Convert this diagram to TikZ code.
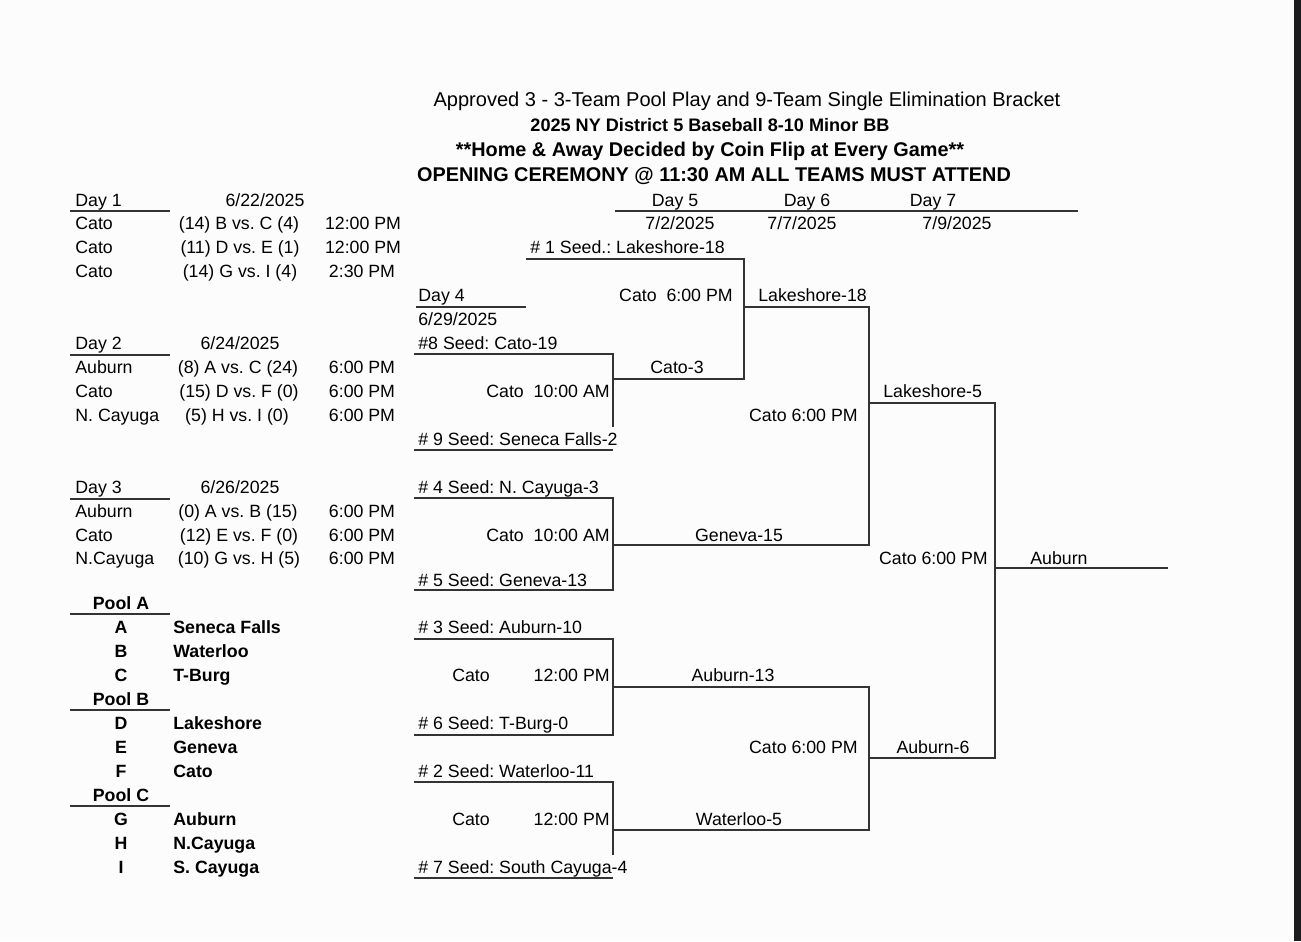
\documentclass[tikz,border=0pt]{standalone}
\usepackage{fontspec}
\setmainfont{Liberation Sans}
\usetikzlibrary{positioning}
\usepackage{xcolor}
\definecolor{rulegray}{HTML}{333333}
\definecolor{edgebar}{HTML}{1C1C1E}
\definecolor{paper}{HTML}{FCFCFC}
\frenchspacing

\begin{document}
\begin{tikzpicture}[x=0.02cm,y=-0.02cm,
  every node/.style={inner sep=0pt,text height=0.716em,text depth=0pt,font=\fontsize{10.1}{12}\selectfont},
  lft/.style={anchor=west},
  rgt/.style={anchor=east},
  bld/.style={font=\fontsize{10.1}{12}\selectfont\bfseries},
  ln/.style={draw=rulegray,line width=1.1pt}]
  \fill[paper] (0,0) rectangle (1301,941);
  \useasboundingbox (0,0) rectangle (1301,941);
  \fill[edgebar] (1294,0) rectangle (1301,941);

  % heading
  \node (title) at (747,100) [font=\fontsize{11.4}{13}\selectfont] {Approved 3 - 3-Team Pool Play and 9-Team Single Elimination Bracket};
  \node (district) at (710,125) [font=\fontsize{10.3}{12}\selectfont\bfseries] {2025 NY District 5 Baseball 8-10 Minor BB};
  \node (coin) at (710,150) [font=\fontsize{11.3}{13}\selectfont\bfseries] {**Home \& Away Decided by Coin Flip at Every Game**};
  \node (ceremony) at (714,175) [font=\fontsize{11.3}{13}\selectfont\bfseries] {OPENING CEREMONY @ 11:30 AM ALL TEAMS MUST ATTEND};

  % pool play days
  \node (day1) [lft] at (75,200) {Day 1};
  \node (day1date) at (265,200) {6/22/2025};
  \coordinate (day1l) at (70,211); \coordinate (day1r) at (170,211);
  \draw[ln] (day1l) -- (day1r);
  \node (d1site1) [lft] at (75,223) {Cato};
  \node (d1game1) at (239,223) {(14) B vs. C (4)};
  \node (d1time1) at (363,223) {12:00 PM};
  \node (d1site2) [lft] at (75,247) {Cato};
  \node (d1game2) at (240,247) {(11) D vs. E (1)};
  \node (d1time2) at (363,247) {12:00 PM};
  \node (d1site3) [lft] at (75,271) {Cato};
  \node (d1game3) at (240,271) {(14) G vs. I (4)};
  \node (d1time3) at (362,271) {2:30 PM};

  \node (day2) [lft] at (75,343) {Day 2};
  \node (day2date) at (240,343) {6/24/2025};
  \coordinate (day2l) at (70,355); \coordinate (day2r) at (170,355);
  \draw[ln] (day2l) -- (day2r);
  \node (d2site1) [lft] at (75,367) {Auburn};
  \node (d2game1) at (238,367) {(8) A vs. C (24)};
  \node (d2time1) at (362,367) {6:00 PM};
  \node (d2site2) [lft] at (75,391) {Cato};
  \node (d2game2) at (239,391) {(15) D vs. F (0)};
  \node (d2time2) at (362,391) {6:00 PM};
  \node (d2site3) [lft] at (75,415) {N. Cayuga};
  \node (d2game3) at (237,415) {(5) H vs. I (0)};
  \node (d2time3) at (362,415) {6:00 PM};

  \node (day3) [lft] at (75,487) {Day 3};
  \node (day3date) at (240,487) {6/26/2025};
  \coordinate (day3l) at (70,499); \coordinate (day3r) at (170,499);
  \draw[ln] (day3l) -- (day3r);
  \node (d3site1) [lft] at (75,511) {Auburn};
  \node (d3game1) at (238,511) {(0) A vs. B (15)};
  \node (d3time1) at (362,511) {6:00 PM};
  \node (d3site2) [lft] at (75,535) {Cato};
  \node (d3game2) at (239,535) {(12) E vs. F (0)};
  \node (d3time2) at (362,535) {6:00 PM};
  \node (d3site3) [lft] at (75,558) {N.Cayuga};
  \node (d3game3) at (239,558) {(10) G vs. H (5)};
  \node (d3time3) at (362,558) {6:00 PM};

  % pools
  \node (poolA) [bld] at (121,603) {Pool A};
  \coordinate (poolAl) at (70,614); \coordinate (poolAr) at (170,614);
  \draw[ln] (poolAl) -- (poolAr);
  \node (keyA) [bld] at (121,627) {A};  \node (teamA) [bld,lft] at (173,627) {Seneca Falls};
  \node (keyB) [bld] at (121,651) {B};  \node (teamB) [bld,lft] at (173,651) {Waterloo};
  \node (keyC) [bld] at (121,675) {C};  \node (teamC) [bld,lft] at (173,675) {T-Burg};
  \node (poolB) [bld] at (121,699) {Pool B};
  \coordinate (poolBl) at (70,710); \coordinate (poolBr) at (170,710);
  \draw[ln] (poolBl) -- (poolBr);
  \node (keyD) [bld] at (121,723) {D};  \node (teamD) [bld,lft] at (173,723) {Lakeshore};
  \node (keyE) [bld] at (121,747) {E};  \node (teamE) [bld,lft] at (173,747) {Geneva};
  \node (keyF) [bld] at (121,771) {F};  \node (teamF) [bld,lft] at (173,771) {Cato};
  \node (poolC) [bld] at (121,795) {Pool C};
  \coordinate (poolCl) at (70,806); \coordinate (poolCr) at (170,806);
  \draw[ln] (poolCl) -- (poolCr);
  \node (keyG) [bld] at (121,819) {G};  \node (teamG) [bld,lft] at (173,819) {Auburn};
  \node (keyH) [bld] at (121,843) {H};  \node (teamH) [bld,lft] at (173,843) {N.Cayuga};
  \node (keyI) [bld] at (121,867) {I};  \node (teamI) [bld,lft] at (173,867) {S. Cayuga};

  % bracket header
  \node (day5) at (675,200) {Day 5};
  \node (day6) at (807,200) {Day 6};
  \node (day7) at (933,200) {Day 7};
  \coordinate (headl) at (615,211); \coordinate (headr) at (1078,211);
  \draw[ln] (headl) -- (headr);
  \node (day5date) at (680,223) {7/2/2025};
  \node (day6date) at (802,223) {7/7/2025};
  \node (day7date) at (957,223) {7/9/2025};
  \node (day4) [lft] at (418,295) {Day 4};
  \coordinate (day4l) at (416,307); \coordinate (day4r) at (526,307);
  \draw[ln] (day4l) -- (day4r);
  \node (day4date) [lft] at (418,319) {6/29/2025};

  % bracket labels
  \node (seed1) [lft] at (530,247) {\# 1 Seed.: Lakeshore-18};
  \node (semi1site) [rgt] at (733,295) {Cato\ \ 6:00 PM};
  \node (semi1win) [lft] at (758,295) {Lakeshore-18};
  \node (seed8) [lft] at (418,343) {\#8 Seed: Cato-19};
  \node (r1win) at (677,367) {Cato-3};
  \node (r1site) [rgt] at (610,391) {Cato\ \ 10:00 AM};
  \node (seed9) [lft] at (418,439) {\# 9 Seed: Seneca Falls-2};
  \node (fin1win) [lft] at (883,391) {Lakeshore-5};
  \node (semi2site) [rgt] at (858,415) {Cato 6:00 PM};
  \node (seed4) [lft] at (418,487) {\# 4 Seed: N. Cayuga-3};
  \node (q2site) [rgt] at (610,535) {Cato\ \ 10:00 AM};
  \node (q2win) at (739,535) {Geneva-15};
  \node (seed5) [lft] at (418,580) {\# 5 Seed: Geneva-13};
  \node (finsite) [rgt] at (988,558) {Cato 6:00 PM};
  \node (champ) [lft] at (1030,558) {Auburn};
  \node (seed3) [lft] at (418,627) {\# 3 Seed: Auburn-10};
  \node (q3site) at (471,675) {Cato};
  \node (q3time) [rgt] at (610,675) {12:00 PM};
  \node (q3win) at (733,675) {Auburn-13};
  \node (seed6) [lft] at (418,723) {\# 6 Seed: T-Burg-0};
  \node (semi3site) [rgt] at (858,747) {Cato 6:00 PM};
  \node (semi3win) at (933,747) {Auburn-6};
  \node (seed2) [lft] at (418,771) {\# 2 Seed: Waterloo-11};
  \node (q4site) at (471,819) {Cato};
  \node (q4time) [rgt] at (610,819) {12:00 PM};
  \node (q4win) at (739,819) {Waterloo-5};
  \node (seed7) [lft] at (418,867) {\# 7 Seed: South Cayuga-4};

  % bracket joints
  \coordinate (s1l) at (526,259);  \coordinate (s1r) at (744,259);
  \coordinate (s8l) at (414,354);  \coordinate (s8r) at (613,354);
  \coordinate (s9l) at (414,450);  \coordinate (s9r) at (613,450);
  \coordinate (r1end) at (613,427);
  \coordinate (r1l) at (613,379);  \coordinate (r1r) at (744,379);
  \coordinate (m1l) at (744,307);  \coordinate (m1r) at (869,307);
  \coordinate (s4l) at (414,498);  \coordinate (s4r) at (613,498);
  \coordinate (s5l) at (414,590);  \coordinate (s5r) at (613,590);
  \coordinate (q2l) at (613,545);  \coordinate (q2r) at (869,545);
  \coordinate (f1l) at (869,403);  \coordinate (f1r) at (995,403);
  \coordinate (s3l) at (414,639);  \coordinate (s3r) at (613,639);
  \coordinate (s6l) at (414,735);  \coordinate (s6r) at (613,735);
  \coordinate (q3l) at (613,687);  \coordinate (q3r) at (869,687);
  \coordinate (s2l) at (414,782);  \coordinate (s2r) at (613,782);
  \coordinate (s7l) at (414,878);  \coordinate (s7r) at (613,878);
  \coordinate (q4end) at (613,855);
  \coordinate (q4l) at (613,830);  \coordinate (q4r) at (869,830);
  \coordinate (f2l) at (869,758);  \coordinate (f2r) at (995,758);
  \coordinate (winl) at (995,568); \coordinate (winr) at (1168,568);

  \draw[ln] (s1l) -- (s1r) -- (r1r) -- (r1l);
  \draw[ln] (s8l) -- (s8r) -- (r1end);
  \draw[ln] (s9l) -- (s9r);
  \draw[ln] (m1l) -- (m1r) -- (q2r) -- (q2l);
  \draw[ln] (s4l) -- (s4r) -- (s5r) -- (s5l);
  \draw[ln] (f1l) -- (f1r) -- (f2r) -- (f2l);
  \draw[ln] (s3l) -- (s3r) -- (s6r) -- (s6l);
  \draw[ln] (q3l) -- (q3r) -- (q4r) -- (q4l);
  \draw[ln] (s2l) -- (s2r) -- (q4end);
  \draw[ln] (s7l) -- (s7r);
  \draw[ln] (winl) -- (winr);
\end{tikzpicture}
\end{document}
